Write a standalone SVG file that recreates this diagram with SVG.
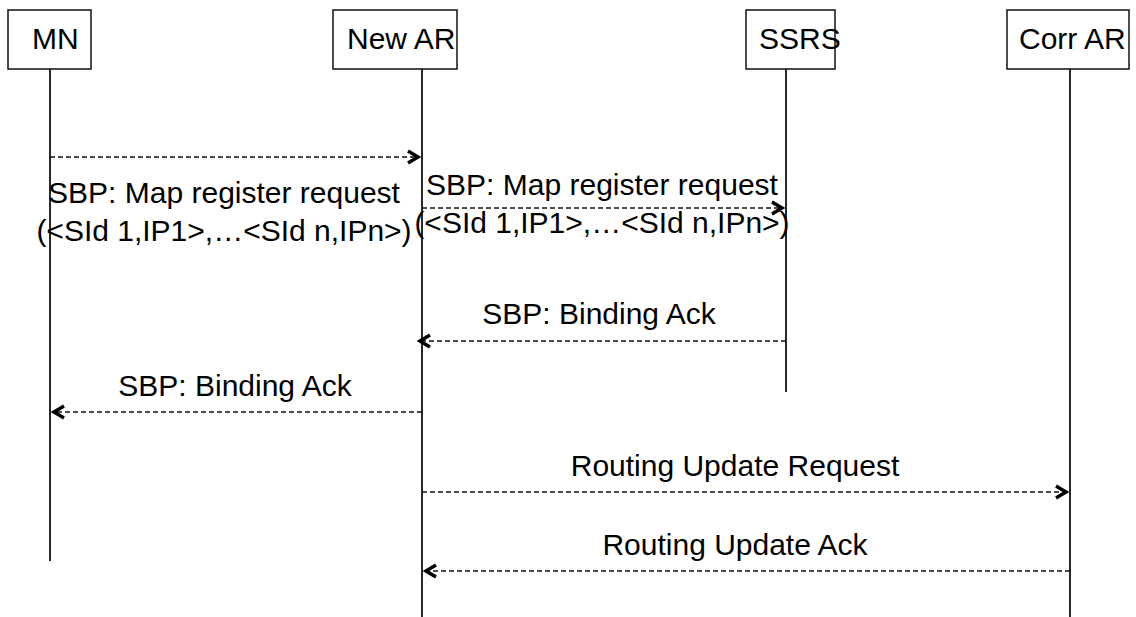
<svg xmlns="http://www.w3.org/2000/svg" width="1136" height="617" viewBox="0 0 1136 617">
<style>
.box{fill:#fff;stroke:#111;stroke-width:1.5}
.life{stroke:#111;stroke-width:1.8;fill:none}
.msg{stroke:#111;stroke-width:1.5;stroke-dasharray:5 3;fill:none}
.t{font-family:"Liberation Sans",Arial,sans-serif;font-size:30px;fill:#000}
.m{text-anchor:middle}
</style>
<defs>
<marker id="ah" markerWidth="16" markerHeight="16" refX="12" refY="8" orient="auto" markerUnits="userSpaceOnUse" overflow="visible">
<path d="M2,2 L12,8 L2,14" fill="none" stroke="#000" stroke-width="3.5" stroke-dasharray="none" stroke-linejoin="miter"/>
</marker>
</defs>
<g id="node-mn">
<rect class="box" x="8" y="10" width="83" height="59"/>
<line class="life" x1="50" y1="69" x2="50" y2="561"/>
<text class="t" x="32" y="49">MN</text>
</g>
<g id="node-newar">
<rect class="box" x="333" y="10" width="124" height="59"/>
<line class="life" x1="422" y1="69" x2="422" y2="617"/>
<text class="t" x="347" y="49">New AR</text>
</g>
<g id="node-ssrs">
<rect class="box" x="746" y="10" width="89" height="59"/>
<line class="life" x1="786" y1="69" x2="786" y2="392"/>
<text class="t" x="759" y="49">SSRS</text>
</g>
<g id="node-corrar">
<rect class="box" x="1007" y="10" width="122" height="59"/>
<line class="life" x1="1070" y1="69" x2="1070" y2="617"/>
<text class="t" x="1019" y="49">Corr AR</text>
</g>
<g id="connectors">
<line class="msg" x1="50" y1="157" x2="418" y2="157" marker-end="url(#ah)"/>
<line class="msg" x1="422" y1="208" x2="782" y2="208" marker-end="url(#ah)"/>
<line class="msg" x1="786" y1="341" x2="420" y2="341" marker-end="url(#ah)"/>
<line class="msg" x1="422" y1="412" x2="54" y2="412" marker-end="url(#ah)"/>
<line class="msg" x1="422" y1="492" x2="1066" y2="492" marker-end="url(#ah)"/>
<line class="msg" x1="1070" y1="571" x2="426" y2="571" marker-end="url(#ah)"/>
</g>
<g id="labels">
<text class="t m" x="224" y="203">SBP: Map register request</text>
<text class="t m" x="224" y="241">(&lt;SId 1,IP1&gt;,…&lt;SId n,IPn&gt;)</text>
<text class="t m" x="602" y="195">SBP: Map register request</text>
<text class="t m" x="602" y="233">(&lt;SId 1,IP1&gt;,…&lt;SId n,IPn&gt;)</text>
<text class="t m" x="599" y="324">SBP: Binding Ack</text>
<text class="t m" x="235" y="396">SBP: Binding Ack</text>
<text class="t m" x="735" y="476">Routing Update Request</text>
<text class="t m" x="735" y="555">Routing Update Ack</text>
</g>
</svg>
